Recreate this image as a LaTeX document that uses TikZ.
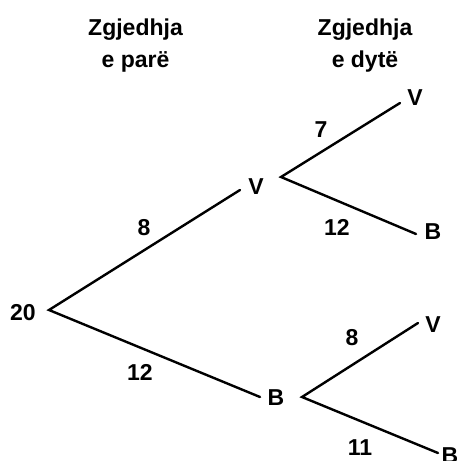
\documentclass[tikz,border=0pt]{standalone}
\usepackage{fontspec}
\setmainfont{Liberation Sans}
\usetikzlibrary{positioning}

\begin{document}
\begin{tikzpicture}[x=1pt,y=1pt,every node/.style={font=\fontsize{23}{32}\selectfont\bfseries,align=center,inner sep=0pt},branch/.style={line width=2.4pt,line cap=round}]
\useasboundingbox (0,0) rectangle (456,461);
\node[anchor=base] (t1) at (135.5,393) {Zgjedhja\\e parë};
\node[anchor=base] (t2) at (365,393) {Zgjedhja\\e dytë};
\node (root) at (23,148) {20};
\node (v1) at (256,274) {V};
\node (b1) at (276,63) {B};
\node (vv) at (415,363) {V};
\node (vb) at (433,229) {B};
\node (bv) at (433,136) {V};
\node (bb) at (450,5) {B};
\coordinate (r0) at (49,151);
\coordinate (v1in) at (240,271); \coordinate (v1out) at (281,284);
\coordinate (b1in) at (260,64); \coordinate (b1out) at (302,64);
\coordinate (vvin) at (400,358); \coordinate (vbin) at (416,227);
\coordinate (bvin) at (418,138); \coordinate (bbin) at (438,8);
\draw[branch] (v1in)--(r0)--(b1in); \draw[branch] (vvin)--(v1out)--(vbin); \draw[branch] (bvin)--(b1out)--(bbin);
\node (l8) at (144,233) {8};
\node (l12) at (140,89) {12};
\node (l7) at (321,331) {7};
\node (l12b) at (337,234) {12};
\node (l8b) at (352,123) {8};
\node (l11) at (360,13) {11};
\end{tikzpicture}
\end{document}
